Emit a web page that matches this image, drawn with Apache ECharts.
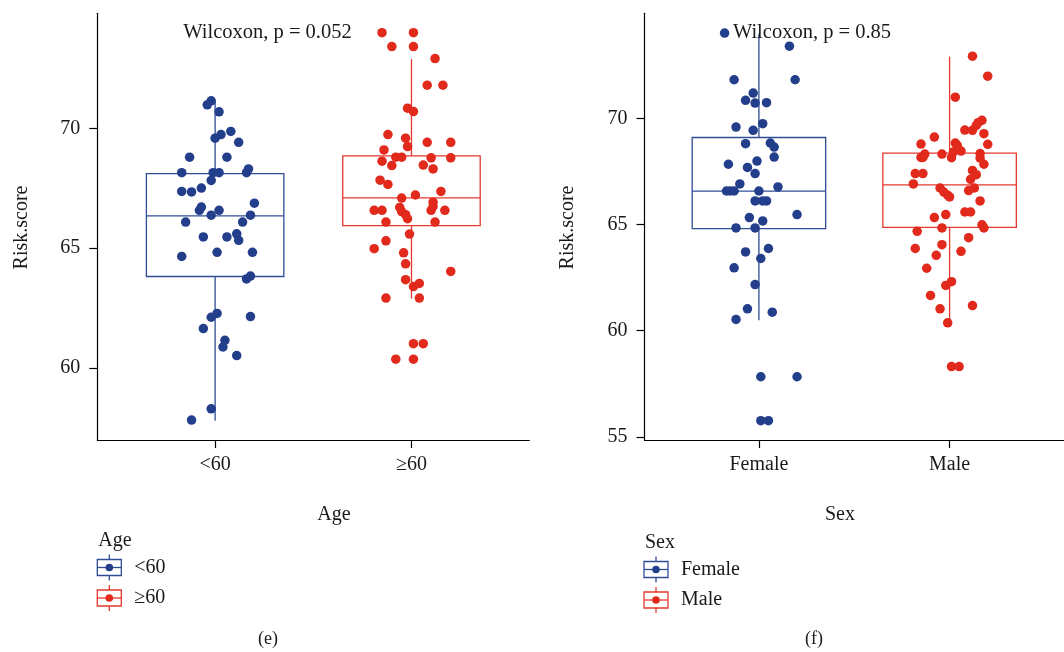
<!DOCTYPE html>
<html>
<head>
<meta charset="utf-8">
<script src="https://cdn.jsdelivr.net/npm/echarts@6/dist/echarts.min.js"></script>
<style>html,body{margin:0;padding:0;background:#fff}#c{width:1064px;height:652px}</style>
</head>
<body>
<div id="c"></div>
<script>
// ---- categories & ticks ----
const ageCategories = ['<60', '≥60'];
const sexCategories = ['Female', 'Male'];
const ageTicks = [60, 65, 70];
const sexTicks = [55, 60, 65, 70];
const agePText = 'Wilcoxon, p = 0.052';
const sexPText = 'Wilcoxon, p = 0.85';

// ---- box statistics [min, Q1, median, Q3, max] ----
const ageLowBox  = [57.8, 63.82, 66.35, 68.11, 71.14];
const ageHighBox = [62.9, 65.94, 67.10, 68.85, 72.89];
const femaleBox  = [60.49, 64.81, 66.57, 69.10, 73.99];
const maleBox    = [60.39, 64.87, 66.87, 68.36, 72.91];

// ---- jittered points: values and horizontal jitter offsets ----
const ageLowValues = [70.98,71.15,70.69,69.87,69.74,69.59,69.42,68.80,68.80,68.15,68.15,68.15,68.31,68.15,67.83,67.51,67.37,67.35,66.88,66.72,66.58,66.58,66.38,66.38,66.09,66.09,65.47,65.47,65.60,65.33,64.83,64.83,64.66,63.84,63.72,62.28,62.12,62.15,61.65,61.16,60.88,60.52,58.30,57.83];
const ageLowJitter = [-0.04,-0.02,0.02,0.08,0.03,0.00,0.12,-0.13,0.06,-0.17,-0.01,0.02,0.17,0.16,-0.02,-0.07,-0.17,-0.12,0.20,-0.07,-0.08,0.02,-0.02,0.18,-0.15,0.14,-0.06,0.06,0.11,0.12,0.01,0.19,-0.17,0.18,0.16,0.01,-0.02,0.18,-0.06,0.05,0.04,0.11,-0.02,-0.12];

const ageHighValues = [73.99,73.99,73.41,73.41,72.91,71.80,71.80,70.84,70.70,69.74,69.59,69.42,69.42,69.24,69.10,68.80,68.80,68.63,68.77,68.77,68.45,68.47,68.31,67.84,67.66,67.37,67.22,67.09,66.58,66.58,66.70,66.53,66.40,66.23,66.92,66.74,66.58,66.58,66.09,66.09,65.59,65.31,64.98,64.81,64.35,64.03,63.69,63.40,63.53,62.92,62.92,61.02,61.02,60.37,60.37];
const ageHighJitter = [-0.15,0.01,-0.10,0.01,0.12,0.08,0.16,-0.02,0.01,-0.12,-0.03,0.08,0.20,-0.02,-0.14,-0.08,-0.05,-0.15,0.10,0.20,-0.10,0.06,0.11,-0.16,-0.12,0.15,0.02,-0.05,-0.19,-0.15,-0.06,-0.05,-0.03,-0.02,0.11,0.11,0.10,0.17,-0.13,0.12,-0.01,-0.13,-0.19,-0.04,-0.03,0.20,-0.03,0.01,0.04,-0.13,0.04,0.01,0.06,-0.08,0.01];

const femaleValues = [74.02,73.40,71.82,71.82,71.19,70.85,70.72,70.74,69.59,69.75,69.44,68.81,68.84,68.65,68.18,67.84,67.99,67.69,67.40,66.91,66.77,66.58,66.58,66.58,66.58,66.11,66.11,66.11,65.47,65.33,65.17,64.84,64.84,63.71,63.87,63.40,62.96,62.17,61.03,60.87,60.53,57.83,57.83,55.76,55.76];
const femaleJitter = [-0.18,0.16,-0.13,0.19,-0.03,-0.07,-0.02,0.04,-0.12,0.02,-0.03,-0.07,0.06,0.08,0.08,-0.16,-0.01,-0.06,-0.02,-0.10,0.10,-0.17,-0.15,-0.13,0.00,-0.02,0.02,0.04,0.20,-0.05,0.02,-0.12,-0.02,-0.07,0.05,0.01,-0.13,-0.02,-0.06,0.07,-0.12,0.01,0.20,0.01,0.05];

const maleValues = [72.93,71.99,71.00,69.91,69.80,69.67,69.45,69.44,69.28,69.12,68.79,68.78,68.84,68.73,68.46,68.42,68.32,68.32,68.16,68.16,68.15,68.34,68.13,67.84,67.40,67.40,67.55,67.35,67.13,66.91,66.60,66.72,66.72,66.53,66.38,66.30,66.11,65.33,65.47,65.59,65.59,64.68,64.84,64.99,64.84,64.38,63.87,64.05,63.55,63.74,62.94,62.31,62.13,61.66,61.18,61.03,60.37,58.31,58.31];
const maleJitter = [0.12,0.20,0.03,0.17,0.15,0.14,0.08,0.12,0.18,-0.08,-0.15,0.20,0.03,0.04,0.06,0.02,-0.04,-0.13,-0.15,-0.14,0.01,0.16,0.16,0.18,-0.18,-0.14,0.12,0.14,0.11,-0.19,0.10,0.13,-0.05,-0.03,-0.01,0.00,0.16,-0.08,-0.02,0.08,0.11,-0.17,-0.04,0.17,0.18,0.10,-0.18,-0.04,-0.07,0.06,-0.12,0.01,-0.02,-0.10,0.12,-0.05,-0.01,0.01,0.05];

// ---- styling ----
const BLUE = '#233F8B', BLUE_BOX = '#2F4D94';
const RED = '#E1291C', RED_BOX = '#E6382E';
const FONT = 'Liberation Serif';
const TXT = '#1a1a1a';

function pts(pos, vals, jit) { return vals.map((v, i) => [pos + jit[i], v]); }

function boxRender(params, api) {
  const x = api.value(0), mn = api.value(1), q1 = api.value(2), md = api.value(3), q3 = api.value(4), mx = api.value(5);
  const hw = 0.35;
  const tl = api.coord([x - hw, q3]), br = api.coord([x + hw, q1]);
  const ml = api.coord([x - hw, md]), mr = api.coord([x + hw, md]);
  const top = api.coord([x, mx]), c3 = api.coord([x, q3]), c1 = api.coord([x, q1]), bot = api.coord([x, mn]);
  const color = api.visual('color');
  const st = { stroke: color, lineWidth: 1.3, fill: null };
  return { type: 'group', children: [
    { type: 'line', shape: { x1: top[0], y1: top[1], x2: c3[0], y2: c3[1] }, style: st },
    { type: 'line', shape: { x1: c1[0], y1: c1[1], x2: bot[0], y2: bot[1] }, style: st },
    { type: 'rect', shape: { x: tl[0], y: tl[1], width: br[0] - tl[0], height: br[1] - tl[1] }, style: { stroke: color, lineWidth: 1.3, fill: 'rgba(0,0,0,0)' } },
    { type: 'line', shape: { x1: ml[0], y1: ml[1], x2: mr[0], y2: mr[1] }, style: st }
  ]};
}

function xAxisCfg(grid, cats) {
  return {
    gridIndex: grid, type: 'value', min: 0.4, max: 2.6,
    splitLine: { show: false },
    axisLine: { show: true, onZero: false, lineStyle: { color: '#000', width: 1.2 } },
    axisTick: { show: true, customValues: [1, 2], length: 8, lineStyle: { color: '#000', width: 1.2 } },
    axisLabel: { customValues: [1, 2], formatter: v => cats[Math.round(v) - 1], margin: 15, fontFamily: FONT, fontSize: 20, color: TXT }
  };
}
function yAxisCfg(grid, min, max, ticks) {
  return {
    gridIndex: grid, type: 'value', min: min, max: max,
    splitLine: { show: false },
    axisLine: { show: true, onZero: false, lineStyle: { color: '#000', width: 1.2 } },
    axisTick: { show: true, customValues: ticks, length: 8, lineStyle: { color: '#000', width: 1.2 } },
    axisLabel: { customValues: ticks, margin: 17, fontFamily: FONT, fontSize: 20, color: TXT }
  };
}

function legend(x0, titleY, items, title) {
  const els = [{ type: 'text', x: x0 + 1, y: titleY, style: { text: title, font: '20px ' + FONT, fill: TXT, verticalAlign: 'middle' } }];
  items.forEach(it => {
    const cx = x0 + 12, cy = it.y;
    els.push({ type: 'line', shape: { x1: cx, y1: cy - 13, x2: cx, y2: cy + 13 }, style: { stroke: it.box, lineWidth: 1.3 } });
    els.push({ type: 'rect', shape: { x: x0, y: cy - 8, width: 24, height: 16 }, style: { stroke: it.box, lineWidth: 1.3, fill: '#fff' } });
    els.push({ type: 'line', shape: { x1: x0, y1: cy, x2: x0 + 24, y2: cy }, style: { stroke: it.box, lineWidth: 1.3 } });
    els.push({ type: 'circle', shape: { cx: cx, cy: cy, r: 3.8 }, style: { fill: it.dot } });
    els.push({ type: 'text', x: x0 + 37, y: cy, style: { text: it.label, font: '20px ' + FONT, fill: TXT, verticalAlign: 'middle' } });
  });
  return els;
}

const chart = echarts.init(document.getElementById('c'), null, { renderer: 'canvas' });
chart.setOption({
  animation: false,
  backgroundColor: '#fff',
  grid: [
    { left: 97.3, top: 13.3, width: 432, height: 426.7 },
    { left: 644.5, top: 13.3, width: 432, height: 426.7 }
  ],
  xAxis: [xAxisCfg(0, ageCategories), xAxisCfg(1, sexCategories)],
  yAxis: [yAxisCfg(0, 57.0, 74.8, ageTicks), yAxisCfg(1, 54.85, 74.95, sexTicks)],
  series: [
    { type: 'custom', xAxisIndex: 0, yAxisIndex: 0, renderItem: boxRender, encode: { x: 0, y: [1, 2, 3, 4, 5] }, z: 2,
      data: [ { value: [1].concat(ageLowBox), itemStyle: { color: BLUE_BOX } }, { value: [2].concat(ageHighBox), itemStyle: { color: RED_BOX } } ] },
    { type: 'custom', xAxisIndex: 1, yAxisIndex: 1, renderItem: boxRender, encode: { x: 0, y: [1, 2, 3, 4, 5] }, z: 2,
      data: [ { value: [1].concat(femaleBox), itemStyle: { color: BLUE_BOX } }, { value: [2].concat(maleBox), itemStyle: { color: RED_BOX } } ] },
    { type: 'scatter', xAxisIndex: 0, yAxisIndex: 0, symbolSize: 9.5, z: 3, itemStyle: { color: BLUE, opacity: 1 }, data: pts(1, ageLowValues, ageLowJitter) },
    { type: 'scatter', xAxisIndex: 0, yAxisIndex: 0, symbolSize: 9.5, z: 3, itemStyle: { color: RED, opacity: 1 }, data: pts(2, ageHighValues, ageHighJitter) },
    { type: 'scatter', xAxisIndex: 1, yAxisIndex: 1, symbolSize: 9.5, z: 3, itemStyle: { color: BLUE, opacity: 1 }, data: pts(1, femaleValues, femaleJitter) },
    { type: 'scatter', xAxisIndex: 1, yAxisIndex: 1, symbolSize: 9.5, z: 3, itemStyle: { color: RED, opacity: 1 }, data: pts(2, maleValues, maleJitter) }
  ],
  graphic: [
    { type: 'text', x: 267.5, y: 33, z: 10, style: { text: agePText, font: '20.5px ' + FONT, fill: TXT, align: 'center', verticalAlign: 'middle' } },
    { type: 'text', x: 812, y: 33, z: 10, style: { text: sexPText, font: '20.5px ' + FONT, fill: TXT, align: 'center', verticalAlign: 'middle' } },
    { type: 'text', x: 21.5, y: 227.5, rotation: Math.PI / 2, style: { text: 'Risk.score', font: '20px ' + FONT, fill: TXT, align: 'center', verticalAlign: 'middle' } },
    { type: 'text', x: 567.5, y: 227.5, rotation: Math.PI / 2, style: { text: 'Risk.score', font: '20px ' + FONT, fill: TXT, align: 'center', verticalAlign: 'middle' } },
    { type: 'text', x: 334, y: 515, style: { text: 'Age', font: '20px ' + FONT, fill: TXT, align: 'center', verticalAlign: 'middle' } },
    { type: 'text', x: 840, y: 515, style: { text: 'Sex', font: '20px ' + FONT, fill: TXT, align: 'center', verticalAlign: 'middle' } },
    { type: 'text', x: 268, y: 639, style: { text: '(e)', font: '18px ' + FONT, fill: TXT, align: 'center', verticalAlign: 'middle' } },
    { type: 'text', x: 814, y: 639, style: { text: '(f)', font: '18px ' + FONT, fill: TXT, align: 'center', verticalAlign: 'middle' } }
  ].concat(
    legend(97.3, 541, [ { y: 567.5, label: ageCategories[0], box: BLUE_BOX, dot: BLUE }, { y: 598, label: ageCategories[1], box: RED_BOX, dot: RED } ], 'Age'),
    legend(644, 543, [ { y: 569.5, label: sexCategories[0], box: BLUE_BOX, dot: BLUE }, { y: 600, label: sexCategories[1], box: RED_BOX, dot: RED } ], 'Sex')
  )
});
</script>
</body>
</html>
